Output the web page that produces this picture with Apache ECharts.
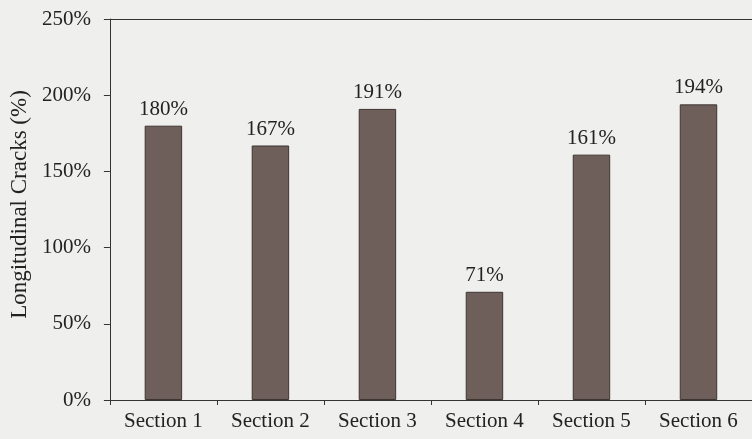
<!DOCTYPE html>
<html>
<head>
<meta charset="utf-8">
<script src="https://cdn.jsdelivr.net/npm/echarts@6/dist/echarts.min.js"></script>
<style>
  html, body { margin: 0; padding: 0; background: #efefed; }
  #chart { width: 752px; height: 439px; }
</style>
</head>
<body>
<div id="chart"></div>
<script>
// data
var sections = ['Section 1', 'Section 2', 'Section 3', 'Section 4', 'Section 5', 'Section 6'];
var crackPct = [180, 167, 191, 71, 161, 194];
var yTicks = { min: 0, max: 250, step: 50 };

var font = "'Liberation Serif', 'Times New Roman', serif";
var ink = '#222';

var chart = echarts.init(document.getElementById('chart'));
var option = {
  backgroundColor: '#efefed',
  animation: false,
  grid: { left: 109, right: -5, top: 19, bottom: 39 },
  xAxis: [
    {
      type: 'category',
      data: sections,
      axisLine: { lineStyle: { color: '#333', width: 1 } },
      axisTick: { show: true, length: 5, inside: false, lineStyle: { color: '#333' } },
      axisLabel: { color: ink, fontFamily: font, fontSize: 21, margin: 11 }
    },
    {
      type: 'category',
      position: 'top',
      data: sections,
      axisLine: { lineStyle: { color: '#333', width: 1 } },
      axisTick: { show: false },
      axisLabel: { show: false }
    }
  ],
  yAxis: {
    type: 'value',
    min: yTicks.min,
    max: yTicks.max,
    interval: yTicks.step,
    name: 'Longitudinal Cracks (%)',
    nameLocation: 'middle',
    nameGap: 78,
    nameTextStyle: { color: ink, fontFamily: font, fontSize: 23, padding: [0, 0, 0, 10] },
    axisLine: { show: true, lineStyle: { color: '#333', width: 1 } },
    axisTick: { show: true, length: 6, lineStyle: { color: '#333' } },
    axisLabel: { color: ink, fontFamily: font, fontSize: 21, margin: 19, formatter: '{value}%' },
    splitLine: { show: false }
  },
  series: [
    {
      type: 'bar',
      data: crackPct,
      barWidth: '35%',
      itemStyle: { color: '#6e5f5a', borderColor: '#3e3532', borderWidth: 1 },
      label: {
        show: true,
        position: 'top',
        distance: 6,
        formatter: '{c}%',
        color: ink,
        fontFamily: font,
        fontSize: 21
      }
    }
  ]
};
chart.setOption(option);
chart.resize();
</script>
</body>
</html>
